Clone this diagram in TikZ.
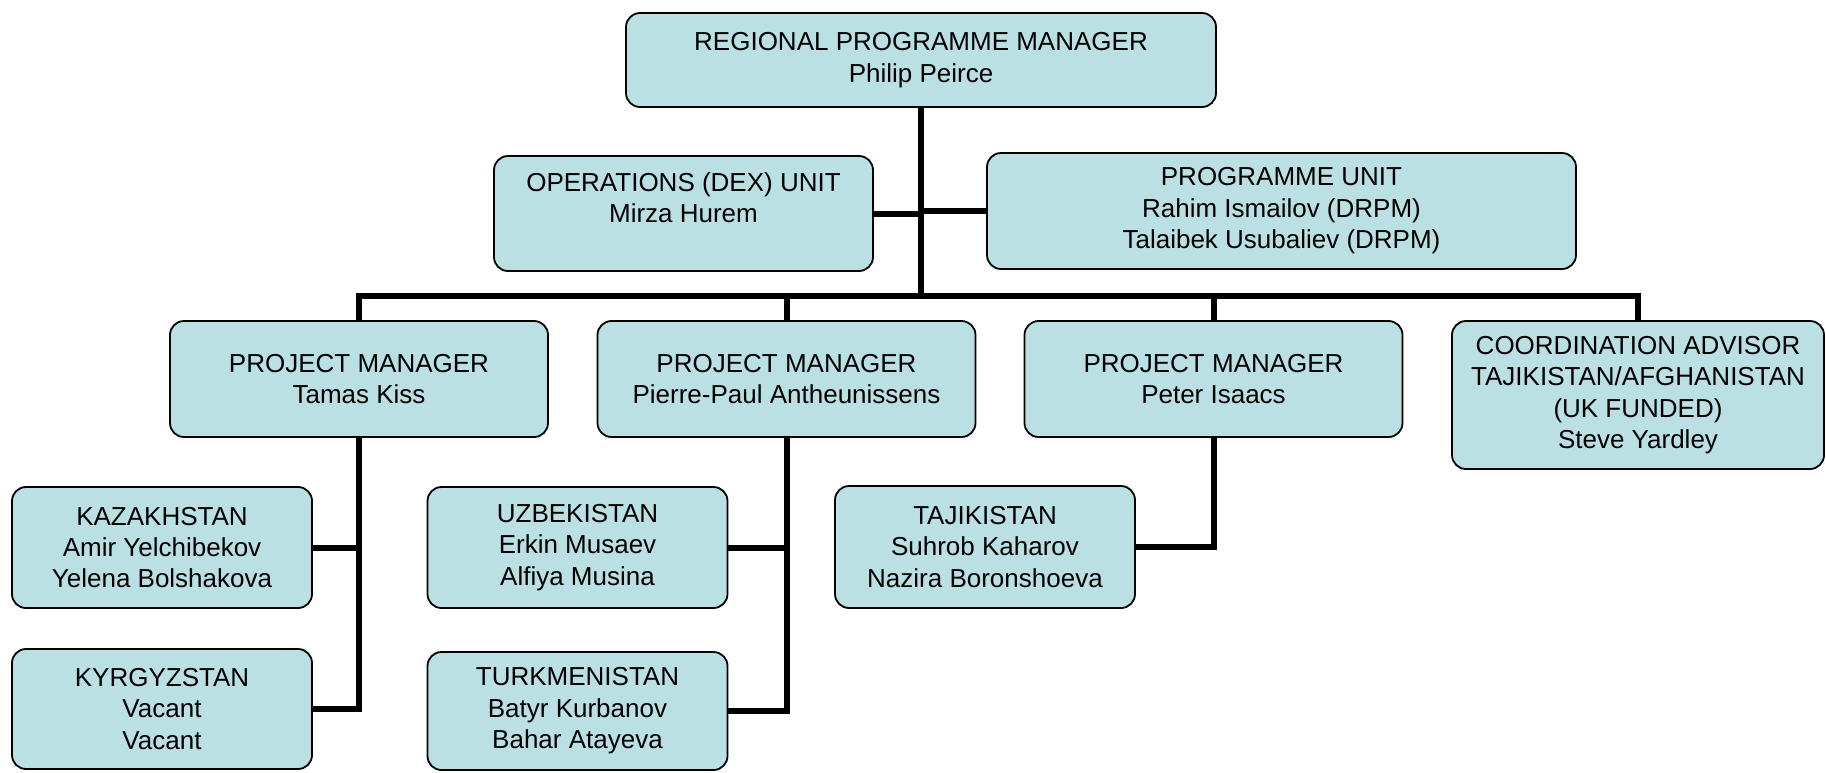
\documentclass[tikz,border=0pt]{standalone}
\usepackage{fontspec}
\setmainfont{Liberation Sans}
\usepackage{tikz}
\definecolor{unitfill}{HTML}{BBE0E3}
\tikzset{
  unitbox/.style={draw=black, line width=0.9pt, fill=unitfill, rounded corners=7pt,
    align=center, inner sep=2pt, font=\fontsize{13}{15.7}\selectfont},
  link/.style={line width=3pt, line join=miter}
}

\begin{document}
\begin{tikzpicture}[x=0.5pt, y=-0.5pt]
	\useasboundingbox (0,0) rectangle (1826,772);
	% top level
	\node[unitbox, minimum width=295pt, minimum height=47pt] (rpm) at (921,60) {REGIONAL PROGRAMME MANAGER\\Philip Peirce};
	\node[unitbox, minimum width=189.5pt, minimum height=57.5pt] (ops) at (683.5,213.5) {OPERATIONS (DEX) UNIT\\Mirza Hurem\\~};
	\node[unitbox, minimum width=294.5pt, minimum height=58pt] (prog) at (1281.5,211) {PROGRAMME UNIT\\Rahim Ismailov (DRPM)\\Talaibek Usubaliev (DRPM)};
	% managers
	\node[unitbox, minimum width=189pt, minimum height=58pt] (pmA) at (359,379) {PROJECT MANAGER\\Tamas Kiss};
	\node[unitbox, minimum width=189pt, minimum height=58pt] (pmB) at (786.5,379) {PROJECT MANAGER\\Pierre-Paul Antheunissens};
	\node[unitbox, minimum width=189pt, minimum height=58pt] (pmC) at (1213.5,379) {PROJECT MANAGER\\Peter Isaacs};
	\node[unitbox, minimum width=186pt, minimum height=74pt] (coord) at (1638,395) {COORDINATION ADVISOR\\TAJIKISTAN/AFGHANISTAN\\(UK FUNDED)\\Steve Yardley};
	% countries
	\node[unitbox, minimum width=150pt, minimum height=60.5pt] (kaz) at (162,547.5) {KAZAKHSTAN\\Amir Yelchibekov\\Yelena Bolshakova};
	\node[unitbox, minimum width=150pt, minimum height=60pt] (kyr) at (162,709) {KYRGYZSTAN\\Vacant\\Vacant};
	\node[unitbox, minimum width=150pt, minimum height=60.5pt] (uzb) at (577.5,547.5) {UZBEKISTAN\\Erkin Musaev\\Alfiya Musina};
	\node[unitbox, minimum width=150pt, minimum height=59pt] (tkm) at (577.5,711) {TURKMENISTAN\\Batyr Kurbanov\\Bahar Atayeva};
	\node[unitbox, minimum width=150pt, minimum height=61pt] (tjk) at (985,547) {TAJIKISTAN\\Suhrob Kaharov\\Nazira Boronshoeva};

	\coordinate (bus) at (921,296);
	\draw[link] (rpm.south) -- (bus);
	\draw[link] (ops.east) -- (ops.east -| bus);
	\draw[link] (prog.west) -- (prog.west -| bus);
	\draw[link] (pmA.north) |- (bus) -| (coord.north);
	\draw[link] (pmB.north) -- (pmB.north |- bus);
	\draw[link] (pmC.north) -- (pmC.north |- bus);
	\draw[link] (pmA.south) |- (kyr.east);
	\draw[link] (kaz.east) -- (kaz.east -| pmA.south);
	\draw[link] (pmB.south) |- (tkm.east);
	\draw[link] (uzb.east) -- (uzb.east -| pmB.south);
	\draw[link] (pmC.south) |- (tjk.east);
\end{tikzpicture}
\end{document}
